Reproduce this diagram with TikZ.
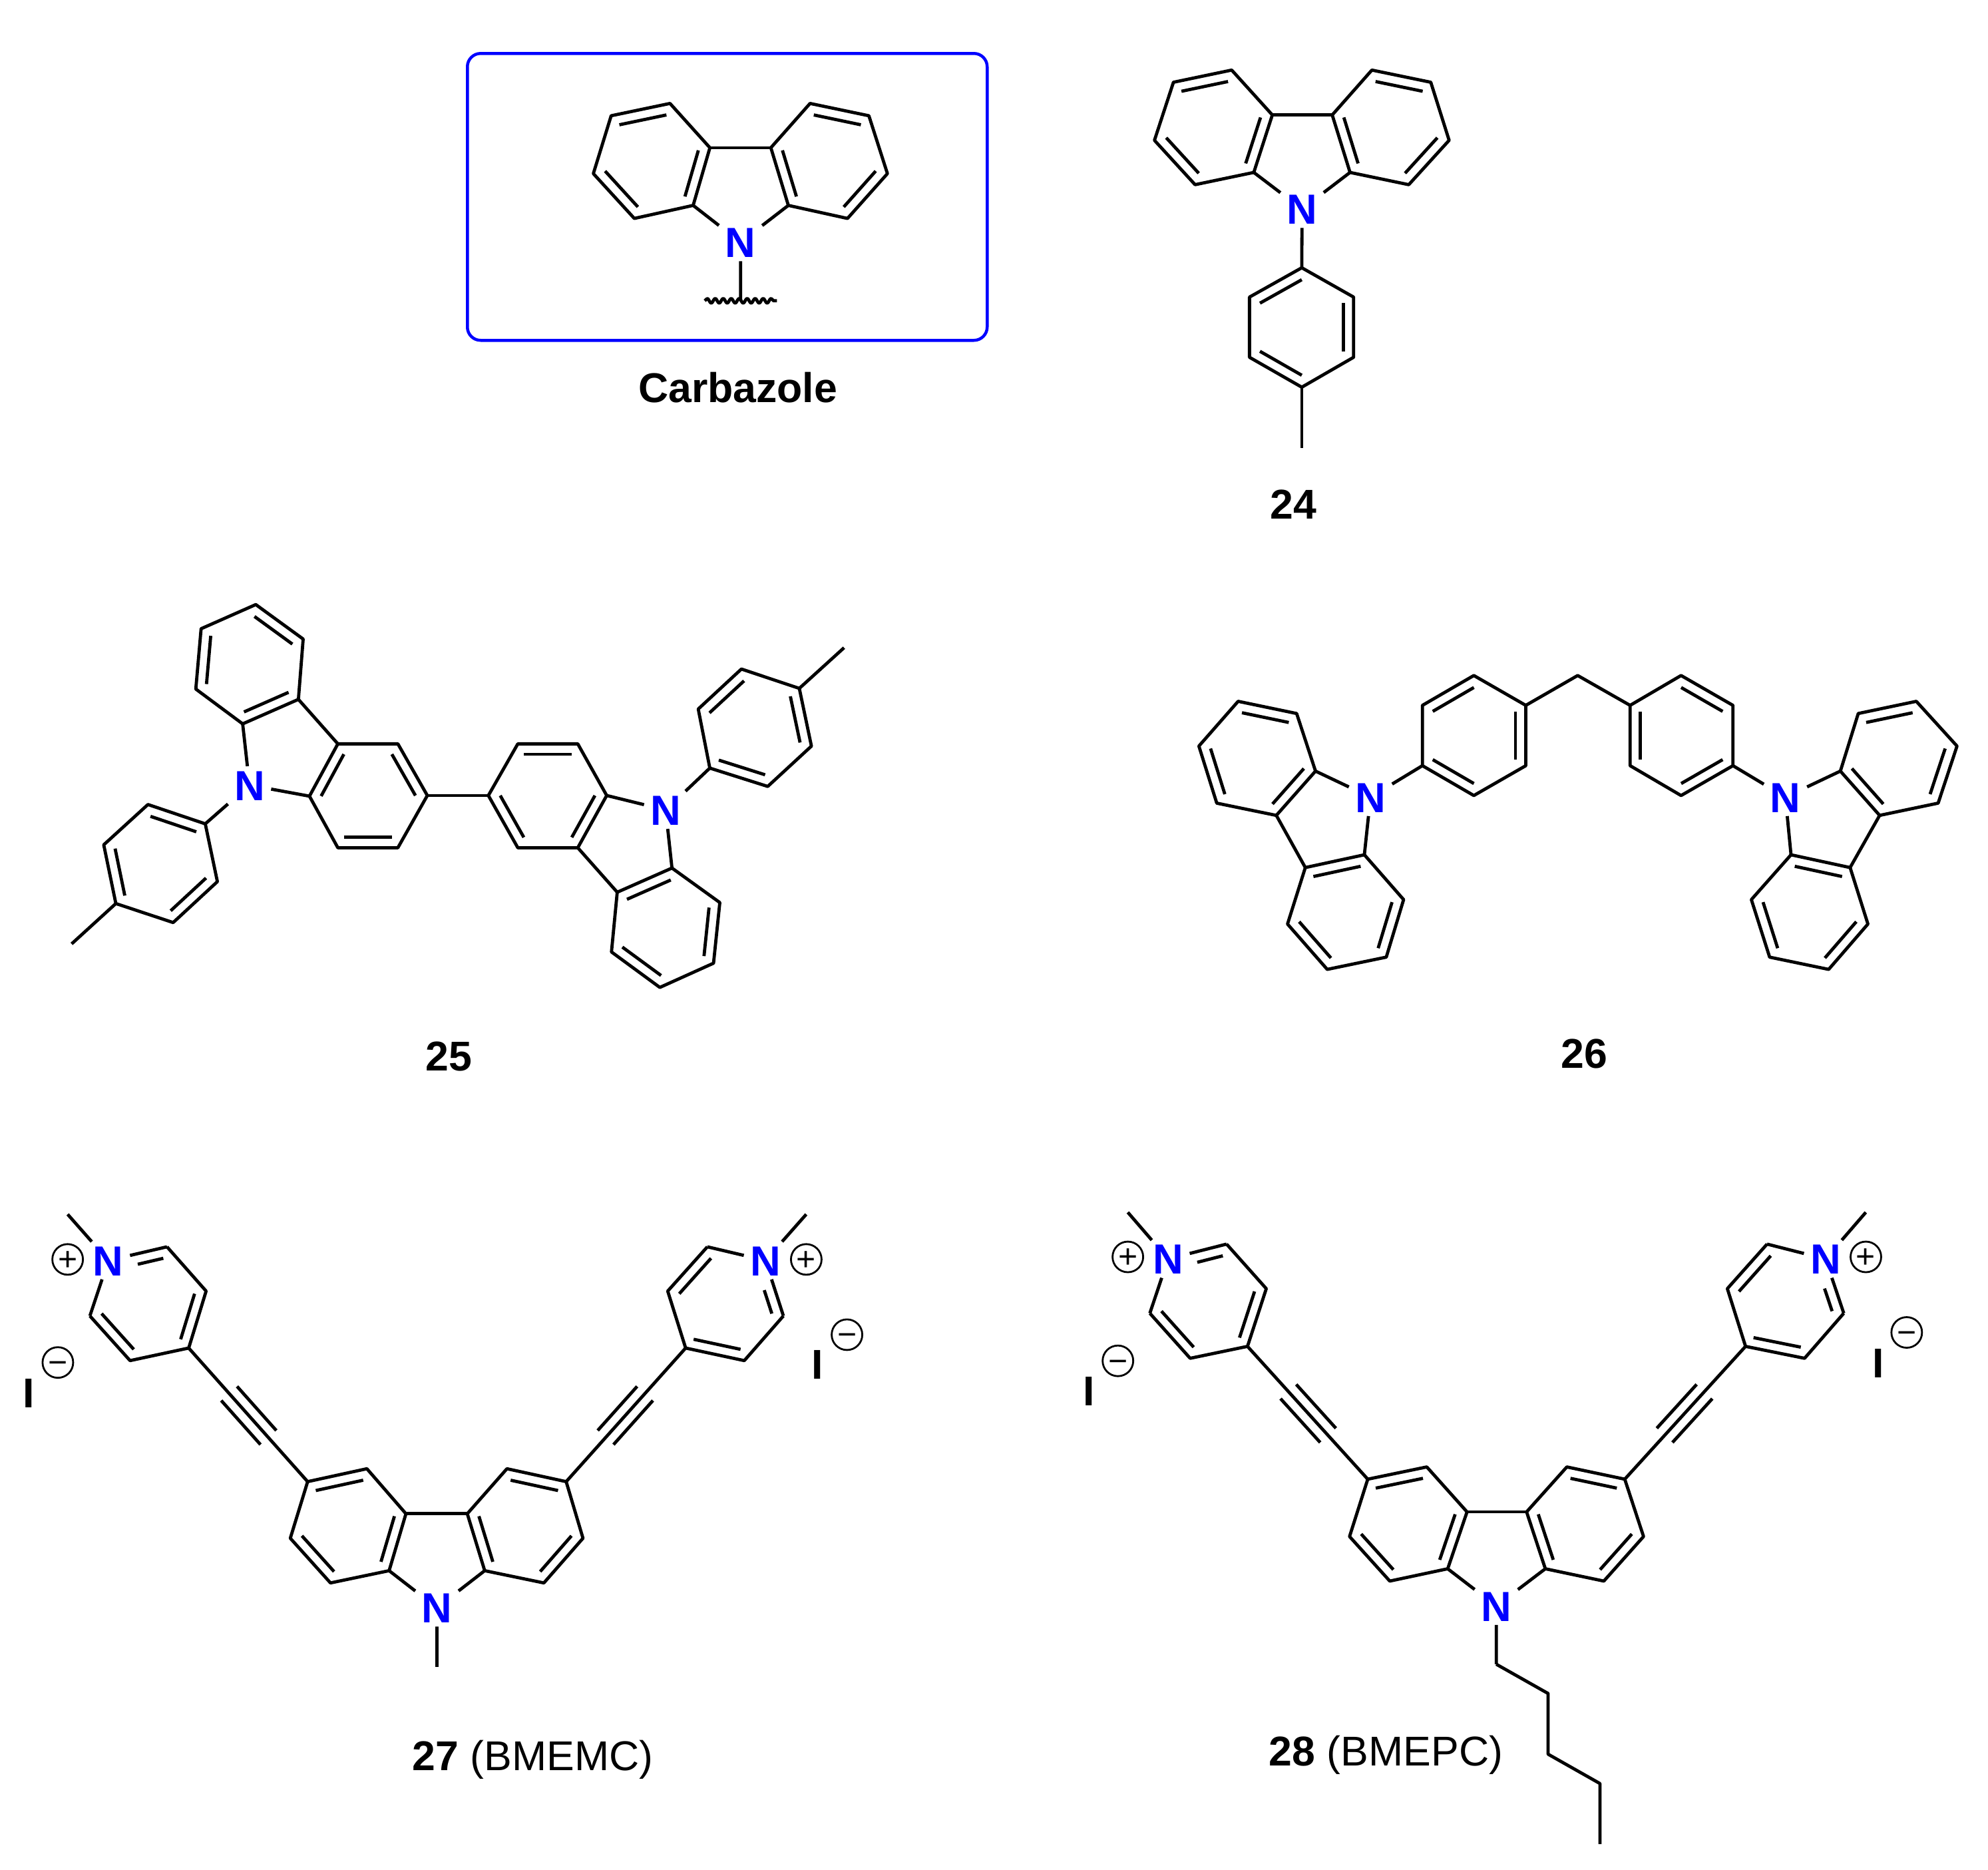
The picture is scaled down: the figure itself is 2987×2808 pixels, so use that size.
\documentclass[tikz,border=0pt]{standalone}
\usepackage{fontspec}
\setmainfont{Liberation Sans}
\usetikzlibrary{calc,decorations.pathmorphing}
\definecolor{hetero}{RGB}{0,0,255}
\tikzset{
  bond/.style={line width=0.48mm,line join=round,black},
  nitro/.style={font=\fontsize{18}{20}\selectfont\bfseries,text=hetero,inner xsep=0.9mm,inner ysep=0.5mm,text height=12.9pt,text depth=0pt},
  caption/.style={font=\fontsize{17.8}{20}\selectfont,anchor=base,inner sep=0pt},
  boldcap/.style={font=\fontsize{17.8}{20}\selectfont\bfseries,anchor=base,inner sep=0pt},
  charge/.style={circle,draw,line width=0.28mm,minimum size=4.6mm,inner sep=0pt,font=\fontsize{14.2}{16}\selectfont,text height=9.6pt,text depth=0pt},
  frame/.style={draw=hetero,line width=0.45mm,rounded corners=2mm}
}
\newcommand\inbond[3]{\draw[bond] ($(#1)!.2!(#3)$)--($(#2)!.2!(#3)$);}
\newcommand\hexa[7]{%
  \coordinate (#1a) at (#2);\coordinate (#1b) at (#3);\coordinate (#1c) at (#4);
  \coordinate (#1d) at (#5);\coordinate (#1e) at (#6);\coordinate (#1f) at (#7);
  \coordinate (#1o) at ($(#1a)!.5!(#1d)$);
  \draw[bond] (#1a)--(#1b)--(#1c)--(#1d)--(#1e)--(#1f)--cycle;
  \inbond{#1a}{#1b}{#1o}\inbond{#1c}{#1d}{#1o}\inbond{#1e}{#1f}{#1o}}
\newcommand\pyr[7]{%
  \node[nitro] (#1n) at (#2) {N};
  \coordinate (#1a) at (#3);\coordinate (#1b) at (#4);\coordinate (#1c) at (#5);
  \coordinate (#1d) at (#6);\coordinate (#1e) at (#7);
  \coordinate (#1o) at ($(#1n)!.5!(#1c)$);
  \draw[bond] (#1n)--(#1a);
  \draw[bond] (#1a)--(#1b)--(#1c)--(#1d)--(#1e);
  \draw[bond] (#1e)--(#1n);
  \draw[bond,shorten <=3.3mm] ($(#1n.center)!.2!(#1o)$)--($(#1a)!.2!(#1o)$);
  \inbond{#1b}{#1c}{#1o}\inbond{#1d}{#1e}{#1o}}
\newcommand\triple[2]{%
  \draw[bond] (#1)--(#2);
  \draw[bond] ($(#1)!.34!(#2)!1.6mm!90:(#2)$)--($(#1)!.67!(#2)!1.6mm!90:(#2)$);
  \draw[bond] ($(#1)!.34!(#2)!1.6mm!-90:(#2)$)--($(#1)!.67!(#2)!1.6mm!-90:(#2)$);}
\begin{document}
\begin{tikzpicture}[x=0.1mm,y=-0.1mm]
\useasboundingbox (0,0) rectangle (2987,2808);
\fill[white] (0,0) rectangle (2987,2808);
% ---- Carbazole
\node[frame,minimum width=78.1mm,minimum height=43.1mm,anchor=north west] (box) at (700,78) {};
\begin{scope}[shift={(3.74,0.33)},scale=0.9945]
\hexa{A}{1008.5,155.9}{919.6,174.5}{892.7,261.9}{954.6,329.6}{1043.5,309.9}{1068.8,222.8}
\hexa{B}{1220.1,155.9}{1309,174.5}{1337,261.9}{1276.7,329.6}{1187.3,309.9}{1160.9,222.8}
\node[nitro] (na) at (1115.1,365.6) {N};
\draw[bond] (Af)--(Bf);
\draw[bond] (Ae)--(na);
\draw[bond] (Be)--(na);
\coordinate (wm) at (1115.1,454);
\coordinate (wl) at (1061,454);
\coordinate (wr) at (1170,454);
\draw[bond] (na)--(wm);
\draw[bond,decorate,decoration={snake,segment length=1.2mm,amplitude=0.35mm}] (wl)--(wr);
\node[boldcap] (carb) at (1111,607.7) {Carbazole};
\end{scope}
% ---- 24
\begin{scope}[shift={(9.35,0.44)},scale=0.9945]
\hexa{C}{1851.5,105.4}{1763.5,123.8}{1734.8,211.5}{1796.2,278.5}{1884.9,260}{1912.9,173.2}
\hexa{D}{2063.3,105.4}{2152.3,123.8}{2180,211.5}{2119,278.5}{2030.3,260}{2003.4,173.2}
\node[nitro] (nb) at (1957.8,315.4) {N};
\draw[bond] (Cf)--(Df);
\draw[bond] (Ce)--(nb);
\draw[bond] (De)--(nb);
\hexa{E}{1957.4,404}{1878.4,448.3}{1878.4,539.2}{1957.4,584.4}{2035.7,539.2}{2035.7,448.3}
\draw[bond] (nb)--(Ea);
\coordinate (meb) at (1957.4,676.3);
\draw[bond] (Ed)--(meb);
\node[boldcap] (l24) at (1945,783.8) {24};
\end{scope}
% ---- 25
\begin{scope}[shift={(0.44,4.84)},scale=0.9945]
\hexa{F}{386,908.3}{457.6,960.4}{450.4,1051.5}{366.2,1088.5}{295.4,1035.9}{303.4,944.8}
\hexa{G}{510,1118.7}{467.1,1197.7}{510,1275.6}{600.7,1275.6}{645.2,1196.7}{600.7,1118.7}
\hexa{H}{309.7,1239.5}{223.1,1210.3}{156.3,1271.2}{174.6,1359.9}{261.2,1388.6}{328,1326.8}
\hexa{I}{781.9,1118.7}{872.5,1118.7}{916.2,1196.7}{872.5,1275.6}{781.9,1275.6}{737.4,1196.7}
\hexa{J}{1014.8,1306.3}{932.1,1342.8}{923.4,1433}{996.5,1486.6}{1077.6,1450}{1087.1,1358.4}
\hexa{K}{1072,1155.3}{1159.5,1183}{1225.5,1122.1}{1207.2,1034.9}{1119.7,1005.7}{1054.5,1066.1}
\node[nitro] (nc) at (376.5,1181) {N};
\node[nitro] (nd) at (1005.3,1218.6) {N};
\draw[bond] (Fc)--(Ga);
\draw[bond] (Fd)--(nc);
\draw[bond] (Gb)--(nc);
\draw[bond] (Ha)--(nc);
\coordinate (mec) at (107.8,1420.8);
\draw[bond] (Hd)--(mec);
\draw[bond] (Ge)--(If);
\draw[bond] (Ic)--(nd);
\draw[bond] (Ja)--(nd);
\draw[bond] (Ka)--(nd);
\draw[bond] (Id)--(Jb);
\coordinate (med) at (1274.8,973.5);
\draw[bond] (Kd)--(med);
\node[boldcap] (l25) at (677.8,1612) {25};
\end{scope}
% ---- 26
\begin{scope}[shift={(9.79,5.39)},scale=0.9945]
\hexa{L}{1860.8,1053.9}{1949.2,1072.3}{1977.7,1159.3}{1918.5,1226.2}{1828.5,1207.7}{1801.5,1121.5}
\hexa{M}{1962.3,1305}{2051.5,1285.7}{2110.8,1353.4}{2084.6,1440.3}{1995.4,1458.8}{1935.4,1390.3}
\hexa{O}{2139.2,1151.1}{2216.9,1196.2}{2295.4,1151.1}{2295.4,1060}{2216.9,1014.9}{2139.2,1060}
\hexa{P}{2608.4,1151.1}{2530,1196.2}{2453,1151.1}{2453,1060}{2530,1014.9}{2608.4,1060}
\hexa{Q}{2885.4,1053.9}{2797.7,1072.3}{2770.7,1159.3}{2830,1226.2}{2918.4,1207.7}{2946.9,1121.5}
\hexa{R}{2785.4,1305}{2696.1,1285.7}{2636.2,1353.4}{2663.8,1440.3}{2753,1458.8}{2812.3,1390.3}
\node[nitro] (ne) at (2060.8,1198.7) {N};
\node[nitro] (nf) at (2687.7,1198.7) {N};
\coordinate (ch) at (2373.8,1014.9);
\draw[bond] (Ld)--(Ma);
\draw[bond] (Lc)--(ne);
\draw[bond] (Mb)--(ne);
\draw[bond] (Oa)--(ne);
\draw[bond] (Od)--(ch)--(Pd);
\draw[bond] (Pa)--(nf);
\draw[bond] (Qc)--(nf);
\draw[bond] (Rb)--(nf);
\draw[bond] (Qd)--(Ra);
\node[boldcap] (l26) at (2383.8,1607.7) {26};
\end{scope}
% ---- 27
\begin{scope}[shift={(0.11,9.9)},scale=0.9945]
\pyr{S}{163.6,1894}{252.2,1873.3}{311.3,1940.2}{285,2026.2}{196.4,2045.2}{135.7,1977.7}
\pyr{W}{1156.4,1894}{1183.5,1977.7}{1124.4,2045.2}{1035.8,2026.2}{1008.7,1940.2}{1068.6,1873.3}
\coordinate (mes) at (102.1,1824.2);
\coordinate (mew) at (1218,1824.2);
\draw[bond] (mes)--(Sn);
\draw[bond] (mew)--(Wn);
\node[charge] (ps) at (102.1,1892.3) {+};
\node[charge] (pw) at (1218,1892.3) {+};
\hexa{U}{464.7,2228}{554.2,2208.5}{613.2,2276.5}{587.8,2362.5}{499.2,2381}{438.5,2313.5}
\hexa{V}{855.3,2228}{765.8,2208.5}{705.9,2276.5}{732.2,2362.5}{821.6,2381}{880.7,2313.5}
\draw[bond] (Uc)--(Vc);
\node[nitro] (ng) at (660,2418.5) {N};
\draw[bond] (Ud)--(ng);
\draw[bond] (Vd)--(ng);
\coordinate (meg) at (660,2507.9);
\draw[bond] (ng)--(meg);
\triple{Sc}{Ua}
\triple{Wc}{Va}
\node[boldcap] (ia) at (43,2116) {I};
\node[charge] (ma) at (87.3,2048) {−};
\node[boldcap] (ib) at (1235,2073) {I};
\node[charge] (mb) at (1279.5,2006) {−};
\node[caption] (l27) at (805,2664) {\textbf{27} (BMEMC)};
\end{scope}
% ---- 28
\begin{scope}[shift={(8.91,9.9)},scale=0.9945]
\pyr{X}{1755.8,1891.7}{1844.2,1869.2}{1904.2,1936.5}{1875.8,2023.7}{1789.2,2041.7}{1728.3,1973.7}
\pyr{Y}{2749.2,1891.7}{2776.7,1973.7}{2717.5,2041.7}{2628.3,2023.7}{2600.8,1936.5}{2660.8,1869.2}
\coordinate (mex) at (1695,1821.2);
\coordinate (mey) at (2810,1821.2);
\draw[bond] (mex)--(Xn);
\draw[bond] (mey)--(Yn);
\node[charge] (px) at (1695,1888.5) {+};
\node[charge] (py) at (2810,1888.5) {+};
\hexa{Ub}{2057.5,2224.3}{2146.7,2205.8}{2207.5,2273.7}{2178.3,2359.6}{2090.8,2378.2}{2030,2310.9}
\hexa{Vb}{2445.8,2224.3}{2358.3,2205.8}{2297.5,2273.7}{2325.8,2359.6}{2414.2,2378.2}{2474.2,2310.9}
\draw[bond] (Ubc)--(Vbc);
\node[nitro] (nh) at (2251.7,2416) {N};
\draw[bond] (Ubd)--(nh);
\draw[bond] (Vbd)--(nh);
\coordinate (c1) at (2251.7,2503.8);
\coordinate (c2) at (2330,2548);
\coordinate (c3) at (2330,2639.7);
\coordinate (c4) at (2408.3,2684);
\coordinate (c5) at (2408.3,2775.6);
\draw[bond] (nh)--(c1);
\draw[bond] (c1)--(c2)--(c3)--(c4)--(c5);
\triple{Xc}{Uba}
\triple{Yc}{Vba}
\node[boldcap] (ic) at (1635.8,2112.8) {I};
\node[charge] (mc) at (1680,2045.5) {−};
\node[boldcap] (id) at (2828.3,2070.5) {I};
\node[charge] (md) at (2871.7,2002.6) {−};
\node[caption] (l28) at (2085,2657) {\textbf{28} (BMEPC)};
\end{scope}
\end{tikzpicture}
\end{document}
